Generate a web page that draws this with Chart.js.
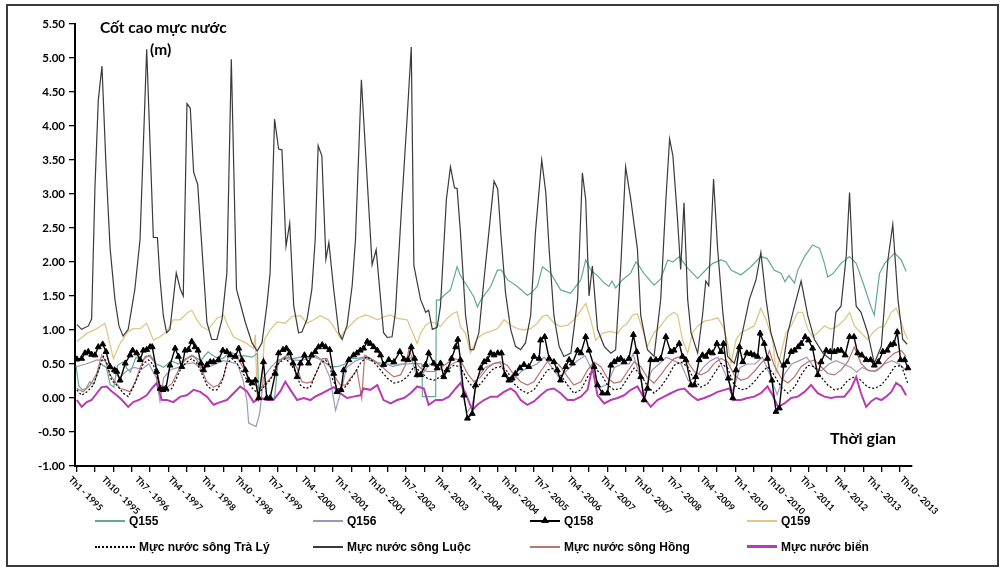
<!DOCTYPE html>
<html lang="vi">
<head>
<meta charset="utf-8">
<title>Cốt cao mực nước</title>
<script src="https://cdn.jsdelivr.net/npm/chart.js@4.4.1/dist/chart.umd.min.js"></script>
<style>
html,body{margin:0;padding:0;background:#fff;}
#khung{position:absolute;left:0;top:0;width:1003px;height:572px;overflow:hidden;}
#vien{position:absolute;left:6px;top:4px;width:993px;height:563px;border:2px solid #3a3a3a;box-sizing:border-box;}
#bieuDo{position:absolute;left:0;top:0;}
.chu{position:absolute;font-family:Lato,"Open Sans",sans-serif;font-weight:bold;color:#000;white-space:nowrap;}
.muc{position:absolute;font-family:"Liberation Sans",sans-serif;font-weight:bold;font-size:12px;color:#000;white-space:nowrap;line-height:14px;}
.net{display:inline-block;vertical-align:middle;position:relative;margin-right:4px;}
</style>
</head>
<body>
<div id="khung">
<div id="vien"></div>
<canvas id="bieuDo" width="1003" height="572"></canvas>
<div class="chu" style="left:100px;top:18px;font-size:15.5px;">Cốt cao mực nước</div>
<div class="chu" style="left:150px;top:40px;font-size:15.5px;">(m)</div>
<div class="chu" style="left:830px;top:428px;font-size:16px;">Thời gian</div>
<div id="chuGiai"></div>
</div>

<script>
// ==============================
// DU LIEU (thang tinh tu Th1-1995 = 0)
// ==============================

const nhanThang = ["Th1 - 1995","Th10 - 1995","Th7 - 1996","Th4 - 1997","Th1 - 1998","Th10 - 1998","Th7 - 1999","Th4 - 2000","Th1 - 2001","Th10 - 2001","Th7 - 2002","Th4 - 2003","Th1 - 2004","Th10 - 2004","Th7 - 2005","Th4 - 2006","Th1 - 2007","Th10 - 2007","Th7 - 2008","Th4 - 2009","Th1 - 2010","Th10 - 2010","Th7 - 2011","Th4 - 2012","Th1 - 2013","Th10 - 2013"];
const viTriNhan = [0,9,18,27,36,45,54,63,72,81,90,99,108,117,126,135,144,153,162,171,180,189,198,207,216,225];

const tenChuoi = ["Q155","Q156","Q158","Q159","Mực nước sông Trà Lý","Mực nước sông Luộc","Mực nước sông Hồng","Mực nước biển"];

const q155 = [[0.3,0.48],[1,0.18],[2,0.12],[3,0.14],[4,0.24],[5,0.2],[6,0.35],[7,0.5],[8.5,0.45],[9.5,0.2],[10.5,0.16],[11.5,0.48],[13,0.53],[14,0.44],[15,0.38],[16.5,0.6],[18,0.55],[20,0.62],[22,0.5],[24,0.45],[26,0.55],[28,0.5],[30,0.58],[32,0.62],[34,0.55],[36,0.68],[38,0.6],[40,0.58],[42,0.68],[44,0.62],[46,0.62],[48,0.6],[49.4,0.66],[49.7,0.0],[54,0.0],[55,0.55],[57,0.6],[59,0.58],[61,0.6],[63,0.6],[65,0.63],[67,0.55],[69,0.46],[71,0.46],[73,0.5],[74,0.59],[76,0.58],[78,0.6],[80,0.55],[82,0.52],[84,0.51],[86,0.46],[88,0.5],[90,0.5],[92,0.51],[93.9,0.5],[94.0,0.02],[97.6,0.02],[97.8,1.44],[98.5,1.44],[99.7,1.5],[101.6,1.59],[103.4,1.93],[104.3,1.8],[106.2,1.64],[107.9,1.49],[108.9,1.34],[109.8,1.44],[112.5,1.64],[114.3,1.88],[115.4,1.88],[117.0,1.74],[119.7,1.64],[122.4,1.51],[123.6,1.55],[125.1,1.64],[126.5,1.93],[128.7,1.84],[131.4,1.59],[134.1,1.54],[136.9,1.74],[138.2,2.03],[139.6,1.88],[141.4,1.8],[143.2,1.69],[144.5,1.64],[145.3,1.72],[146.3,1.62],[148.2,1.74],[150.4,1.84],[151.8,2.0],[152.2,1.98],[154.0,1.83],[156.7,1.66],[158.5,1.75],[160.4,2.03],[161.8,2.0],[163.5,2.08],[165.8,1.91],[168.5,1.76],[171.0,1.9],[172.6,1.98],[174.8,2.03],[176.2,2.0],[177.5,1.88],[180.2,1.81],[182.9,1.93],[185.6,2.08],[187.3,2.05],[189.2,1.88],[191.1,1.83],[192.1,1.71],[193.2,1.8],[194.7,1.69],[195.6,1.88],[197.4,2.08],[199.6,2.25],[201.5,2.2],[202.8,1.98],[203.7,1.78],[205.1,1.83],[207.3,1.98],[209.6,2.08],[211.4,1.98],[213.6,1.64],[215.4,1.34],[216.3,1.22],[217.7,1.83],[219.1,1.98],[220.9,2.08],[221.8,2.13],[223.6,2.03],[224.9,1.86]];

const q156 = [[0.3,0.46],[3,0.5],[6,0.56],[8,0.55],[10,0.4],[12,0.3],[14,0.4],[16,0.45],[18,0.42],[20,0.5],[22,0.3],[23,-0.05],[24,0.3],[26,0.42],[28,0.45],[30,0.5],[32,0.52],[34,0.45],[36,0.45],[38,0.5],[40,0.55],[42,0.53],[44,0.5],[45.5,0.26],[46.5,-0.03],[47,-0.37],[49,-0.42],[50,-0.22],[51,0.3],[53,0.45],[55,0.56],[57,0.58],[59,0.56],[61,0.55],[63,0.58],[65,0.6],[67,0.55],[69,0.3],[70.5,-0.18],[72,0.1],[73.5,0.45],[76,0.55],[79,0.6],[81,0.55],[83,0.45],[85,0.5],[87,0.48],[89,0.5],[91,0.6],[92.5,0.3],[94,0.35],[96,0.5],[98,0.45],[100,0.4],[102,0.5],[104,0.55],[105,0.05],[106,-0.22],[107.5,-0.1],[109,0.3],[111,0.45],[113,0.5],[115,0.52],[117,0.3],[119,0.3],[121,0.4],[123,0.45],[125,0.5],[127,0.6],[129,0.45],[131,0.3],[133,0.4],[136,0.55],[138,0.62],[140,0.4],[142,0.15],[144,0.2],[146,0.45],[148,0.5],[150,0.5],[151,0.65],[153,0.3],[154,0.05],[156,0.4],[158,0.5],[160,0.6],[162,0.55],[164,0.5],[166,0.25],[168,0.3],[170,0.45],[172,0.55],[174,0.6],[176,0.35],[178,0.1],[180,0.45],[182,0.5],[184,0.5],[186,0.6],[188,0.35],[190,0.05],[192,0.35],[194,0.5],[196,0.55],[198,0.6],[200,0.45],[202,0.4],[204,0.5],[206,0.55],[208,0.5],[210,0.45],[211.5,0.38],[213,0.45],[215,0.4],[217,0.4],[219,0.5],[221,0.55],[223,0.5],[225,0.4]];

const q158 = [[0.5,0.57],[1.8,0.58],[2.7,0.66],[3.6,0.68],[4.5,0.64],[5.4,0.63],[6.3,0.75],[7.5,0.79],[8.4,0.68],[9.5,0.46],[10.7,0.41],[11.3,0.39],[12.2,0.26],[13.6,0.51],[14.9,0.63],[15.6,0.7],[16.7,0.66],[17.6,0.56],[18.5,0.7],[19.4,0.71],[20.3,0.75],[20.9,0.75],[22.1,0.39],[23.0,0.14],[23.8,0.12],[24.6,0.14],[25.7,0.48],[27.1,0.73],[28.0,0.61],[28.9,0.46],[29.8,0.7],[30.7,0.71],[31.6,0.83],[32.5,0.75],[33.3,0.7],[34.1,0.51],[34.8,0.41],[35.7,0.49],[36.6,0.53],[37.5,0.53],[38.8,0.56],[40.0,0.7],[41.1,0.68],[42.0,0.63],[43.4,0.61],[44.3,0.73],[45.2,0.56],[46.1,0.41],[47.0,0.26],[47.9,0.22],[48.8,0.26],[49.7,0.0],[51.0,0.53],[51.9,0.0],[52.8,0.0],[54.2,0.36],[55.1,0.66],[56.3,0.71],[57.2,0.73],[58.1,0.66],[59.0,0.51],[60.1,0.31],[61.0,0.51],[62.1,0.63],[63.2,0.51],[64.0,0.63],[65.0,0.68],[65.9,0.75],[66.9,0.78],[67.8,0.75],[68.9,0.71],[70.0,0.36],[70.9,0.09],[72.0,0.12],[72.7,0.41],[74.1,0.56],[75.4,0.63],[76.3,0.66],[77.2,0.7],[78.1,0.73],[79.1,0.83],[79.9,0.8],[80.8,0.75],[81.8,0.7],[82.7,0.63],[83.5,0.49],[84.9,0.56],[86.3,0.53],[87.9,0.68],[89.0,0.57],[90.1,0.56],[91.0,0.75],[91.9,0.58],[92.6,0.34],[93.5,0.34],[94.9,0.49],[95.7,0.66],[97.1,0.51],[98.0,0.44],[98.9,0.51],[99.8,0.31],[100.7,0.41],[101.9,0.58],[103.0,0.75],[103.6,0.86],[104.3,0.56],[105.2,0.04],[106.2,-0.3],[107.5,-0.23],[108.4,0.19],[109.8,0.44],[110.7,0.53],[111.6,0.56],[112.5,0.66],[113.4,0.63],[114.4,0.66],[115.4,0.66],[116.3,0.34],[117.4,0.26],[118.3,0.29],[119.2,0.36],[120.4,0.44],[121.5,0.49],[122.8,0.46],[124.2,0.61],[125.6,0.58],[126.0,0.85],[127.1,0.9],[128.3,0.58],[129.6,0.53],[130.5,0.41],[131.4,0.26],[132.8,0.46],[133.7,0.56],[134.6,0.51],[136.0,0.7],[136.9,0.66],[138.2,0.9],[139.1,0.7],[140.5,0.46],[141.4,0.19],[142.7,0.07],[144.1,0.07],[145.0,0.48],[145.9,0.53],[146.8,0.56],[147.7,0.58],[148.6,0.53],[149.9,0.58],[151.1,0.93],[152.0,0.68],[153.1,0.31],[154.0,-0.03],[154.9,0.14],[155.8,0.56],[157.2,0.56],[158.5,0.58],[159.9,0.9],[161.2,0.68],[162.1,0.7],[163.5,0.8],[164.4,0.61],[165.3,0.56],[166.7,0.19],[167.6,0.19],[168.0,0.31],[168.9,0.56],[169.8,0.63],[170.7,0.61],[171.6,0.68],[172.5,0.66],[173.7,0.8],[174.8,0.68],[175.5,0.8],[176.8,0.29],[178.0,0.0],[178.9,0.41],[179.8,0.75],[180.7,0.53],[181.8,0.66],[182.9,0.65],[183.8,0.63],[184.7,0.61],[185.4,0.95],[186.5,0.8],[187.4,0.58],[188.6,0.26],[189.7,-0.2],[190.6,-0.15],[191.8,0.48],[192.7,0.53],[193.8,0.68],[194.7,0.7],[195.7,0.75],[196.5,0.8],[197.6,0.9],[198.5,0.85],[199.6,0.73],[201.0,0.34],[201.9,0.53],[203.3,0.7],[204.4,0.68],[205.5,0.68],[206.4,0.7],[207.3,0.7],[208.4,0.63],[209.6,0.9],[210.8,0.9],[211.8,0.66],[212.9,0.63],[214.1,0.56],[215.3,0.56],[216.3,0.48],[217.4,0.53],[218.6,0.68],[219.8,0.7],[220.7,0.78],[221.6,0.8],[222.5,0.97],[223.4,0.56],[224.5,0.56],[225.4,0.44]];

const q159 = [[0.5,0.83],[3.2,0.95],[5.9,1.02],[8.1,1.1],[9.0,0.9],[10.4,0.58],[12.2,0.8],[14.4,0.98],[15.8,1.02],[17.6,1.02],[19.4,1.1],[21.2,0.85],[23.0,0.9],[24.9,0.98],[26.6,1.15],[28.5,1.15],[30.3,1.25],[31.6,1.29],[33.0,1.15],[34.3,1.05],[36.0,1.0],[38.4,1.17],[40.2,1.22],[41.1,1.1],[42.9,0.9],[44.7,0.85],[46.5,0.8],[48.3,0.73],[48.8,0.93],[49.3,0.0],[50.4,0.0],[51.2,0.85],[52.8,1.0],[54.7,1.12],[56.9,1.1],[58.8,1.2],[61.0,1.21],[62.8,1.1],[64.6,1.15],[66.4,1.21],[68.6,1.15],[70.0,1.05],[71.8,0.88],[72.7,0.97],[74.5,1.07],[76.3,1.17],[78.6,1.22],[79.9,1.2],[81.8,1.15],[84.0,1.2],[85.4,1.22],[87.2,1.17],[89.9,1.15],[92.6,0.8],[93.5,0.95],[94.9,1.07],[96.2,1.12],[97.6,1.1],[98.9,1.05],[100.7,1.17],[102.1,1.24],[103.4,1.27],[104.3,1.05],[105.7,0.95],[107.0,0.66],[108.9,0.88],[110.7,0.95],[112.5,0.98],[114.3,1.02],[116.1,1.15],[117.9,1.07],[119.7,1.02],[121.5,1.0],[123.3,1.02],[125.1,1.1],[126.5,1.2],[127.8,1.22],[129.6,1.1],[131.4,1.05],[133.3,1.07],[135.0,1.15],[136.9,1.29],[138.2,1.39],[139.6,1.15],[140.9,0.85],[142.7,0.95],[145.0,0.98],[146.8,0.95],[148.2,1.05],[149.5,1.1],[150.9,1.22],[152.2,1.24],[153.6,1.0],[154.9,0.76],[156.7,0.96],[158.5,1.06],[160.4,1.2],[162.1,1.26],[163.1,1.22],[164.4,0.86],[165.8,0.66],[167.1,0.96],[168.5,1.06],[170.3,1.13],[172.1,1.15],[173.9,1.18],[175.3,1.06],[176.6,0.81],[177.5,0.51],[178.9,0.86],[180.2,0.96],[182.0,1.01],[183.8,1.06],[185.6,1.32],[187.0,1.15],[188.8,0.86],[189.7,0.37],[191.1,0.66],[192.4,0.96],[193.8,1.06],[195.6,1.26],[196.9,1.26],[198.3,1.01],[199.6,0.9],[201.0,0.96],[202.8,1.06],[204.6,1.01],[206.4,1.06],[208.2,1.15],[209.6,1.26],[210.9,1.06],[212.7,0.96],[214.5,0.86],[215.9,0.96],[217.3,1.03],[219.1,1.06],[220.9,1.26],[222.2,1.32],[223.1,1.2],[224.5,0.96],[225.4,0.86]];

const songTraLy = [[0.5,0.12],[1.8,0.04],[3.2,0.09],[5.0,0.19],[6.8,0.48],[7.7,0.61],[8.6,0.51],[9.9,0.26],[11.3,0.19],[13.1,0.07],[14.4,0.02],[15.8,0.16],[17.2,0.34],[18.5,0.51],[19.9,0.56],[21.2,0.49],[23.0,0.16],[24.9,0.09],[26.2,0.14],[27.6,0.31],[28.9,0.46],[30.3,0.53],[31.6,0.58],[33.0,0.51],[34.3,0.36],[35.7,0.19],[37.0,0.12],[38.4,0.12],[39.8,0.24],[41.1,0.51],[42.5,0.58],[43.8,0.51],[45.2,0.39],[47.0,0.22],[48.3,0.12],[49.7,0.07],[51.5,0.19],[52.8,0.26],[54.2,0.46],[55.6,0.53],[56.9,0.58],[58.3,0.51],[59.6,0.39],[61.0,0.19],[62.3,0.14],[63.7,0.16],[65.0,0.34],[66.4,0.51],[67.8,0.56],[69.1,0.46],[69.6,0.29],[70.9,0.14],[72.3,0.12],[73.6,0.19],[75.4,0.34],[77.2,0.51],[79.0,0.61],[80.8,0.53],[82.7,0.41],[84.5,0.29],[86.3,0.22],[88.1,0.24],[89.9,0.31],[91.7,0.46],[93.5,0.39],[95.3,0.29],[97.1,0.26],[98.9,0.31],[100.7,0.41],[102.5,0.48],[104.3,0.46],[106.2,0.26],[107.9,0.14],[109.8,0.21],[111.6,0.34],[113.4,0.44],[115.2,0.46],[117.0,0.39],[118.8,0.21],[120.6,0.12],[122.4,0.07],[124.2,0.12],[126.0,0.26],[127.8,0.41],[129.6,0.44],[131.4,0.34],[133.3,0.19],[135.0,0.07],[136.9,0.12],[138.7,0.31],[140.5,0.44],[142.3,0.36],[144.1,0.19],[145.9,0.12],[147.7,0.14],[149.5,0.29],[151.3,0.44],[153.1,0.34],[154.9,0.18],[156.7,0.07],[158.5,0.16],[160.4,0.31],[162.1,0.48],[163.9,0.53],[165.8,0.46],[167.6,0.26],[169.4,0.16],[171.2,0.21],[173.0,0.36],[174.8,0.51],[176.6,0.44],[178.4,0.19],[180.2,0.12],[182.0,0.14],[183.8,0.24],[185.6,0.36],[187.4,0.46],[189.2,0.34],[191.1,0.16],[192.9,0.07],[194.7,0.16],[196.5,0.34],[198.3,0.48],[200.1,0.46],[201.9,0.31],[203.7,0.19],[205.5,0.12],[207.3,0.14],[209.1,0.26],[210.9,0.31],[212.7,0.26],[214.5,0.16],[216.3,0.14],[218.2,0.19],[220.0,0.31],[221.8,0.46],[223.6,0.48],[225.4,0.21]];

const songLuoc = [[0.5,1.08],[1.8,1.01],[3.6,1.06],[4.5,1.16],[5.4,3.1],[6.3,4.38],[7.3,4.88],[8.4,3.4],[9.5,2.2],[10.8,1.45],[11.9,1.06],[13.0,0.91],[14.4,1.01],[16.2,1.6],[17.6,2.33],[19.4,5.13],[21.2,2.36],[22.3,2.36],[23.0,1.75],[23.9,1.21],[24.8,0.96],[25.7,1.01],[26.6,1.45],[27.4,1.84],[28.5,1.6],[29.3,1.5],[30.3,4.33],[31.2,4.26],[32.1,3.32],[33.2,3.14],[34.8,1.84],[35.7,1.11],[37.0,0.86],[38.4,0.86],[39.8,1.16],[41.1,1.84],[42.3,4.98],[43.7,1.6],[46.1,1.11],[47.9,0.81],[49.3,0.69],[50.6,0.81],[51.9,1.35],[52.8,1.84],[54.0,4.1],[55.1,3.66],[56.0,3.65],[57.1,2.23],[58.1,2.57],[59.2,1.35],[60.5,0.96],[61.4,0.97],[62.8,1.16],[64.1,1.6],[65.0,2.33],[65.8,3.71],[66.8,3.56],[67.9,2.04],[68.7,2.29],[70.0,1.6],[71.4,0.96],[72.3,0.86],[73.6,1.06],[75.0,1.65],[75.9,2.33],[77.5,4.68],[80.4,1.96],[81.5,2.18],[83.5,0.96],[84.5,0.89],[85.8,0.9],[86.7,1.26],[88.5,2.92],[89.9,4.14],[91.0,5.16],[91.7,1.95],[93.5,1.45],[94.9,1.26],[95.7,1.29],[96.7,1.01],[98.0,1.04],[98.9,1.35],[100.5,2.92],[101.6,3.4],[102.7,3.09],[103.4,3.08],[104.3,2.44],[105.7,1.21],[107.0,0.71],[107.9,0.71],[109.3,0.96],[110.6,1.7],[112.0,2.44],[113.4,3.19],[114.4,3.07],[115.2,2.44],[116.5,1.55],[117.9,1.01],[119.2,0.76],[120.6,0.71],[121.9,0.81],[123.3,1.21],[124.6,2.44],[126.3,3.5],[127.4,3.02],[128.3,2.19],[129.6,1.21],[131.0,0.76],[132.3,0.61],[134.2,0.66],[136.0,1.45],[137.3,3.31],[138.2,2.92],[139.1,1.5],[140.0,1.94],[141.4,1.01],[143.2,0.76],[145.0,0.66],[146.3,0.71],[147.7,1.94],[149.0,3.4],[150.4,2.92],[152.2,2.19],[153.1,1.21],[154.9,0.71],[156.7,0.61],[158.5,1.45],[159.9,2.92],[160.9,3.81],[161.8,3.56],[163.0,2.67],[163.9,1.89],[164.8,2.87],[165.8,1.45],[166.7,0.96],[168.5,0.66],[169.8,1.21],[170.7,1.72],[171.5,1.65],[172.8,3.22],[173.9,2.19],[175.3,1.26],[176.6,0.61],[178.4,0.51],[180.2,0.86],[182.5,1.45],[184.3,1.74],[185.6,2.14],[187.0,1.45],[188.3,0.96],[190.2,0.61],[191.5,0.46],[192.9,0.96],[194.7,1.35],[196.5,1.72],[198.3,1.21],[200.1,0.86],[202.4,0.66],[204.6,0.56],[205.9,1.26],[207.3,1.35],[208.7,2.09],[209.6,3.02],[210.5,1.94],[211.4,1.35],[212.7,1.26],[214.5,0.96],[216.3,0.51],[218.2,0.76],[220.0,2.04],[221.3,2.55],[222.7,1.45],[224.0,0.86],[225.2,0.79]];

const songHong = [[0.5,0.14],[2.2,0.09],[4.1,0.19],[5.9,0.36],[7.2,0.63],[8.1,0.56],[9.5,0.34],[10.8,0.24],[12.2,0.14],[13.6,0.12],[14.9,0.09],[16.3,0.24],[17.6,0.44],[19.0,0.61],[20.3,0.63],[21.7,0.53],[23.0,0.19],[24.9,0.16],[26.2,0.21],[27.6,0.36],[28.9,0.51],[30.3,0.58],[31.6,0.63],[33.0,0.56],[34.3,0.41],[35.7,0.24],[37.5,0.16],[38.8,0.19],[40.2,0.31],[41.5,0.61],[42.9,0.63],[44.3,0.56],[45.6,0.44],[47.4,0.26],[48.8,0.19],[50.1,0.14],[52.0,0.24],[53.3,0.31],[54.7,0.48],[56.0,0.58],[57.4,0.63],[58.7,0.56],[60.1,0.44],[61.4,0.24],[62.8,0.22],[64.1,0.24],[65.5,0.39],[66.9,0.58],[68.2,0.58],[70.0,0.34],[71.8,0.19],[73.2,0.19],[74.5,0.29],[76.3,0.41],[77.6,0.0],[78.4,0.63],[79.0,0.61],[80.8,0.56],[82.7,0.48],[84.5,0.39],[86.3,0.31],[88.1,0.34],[89.4,0.48],[90.3,0.7],[91.7,0.56],[93.5,0.44],[95.3,0.39],[97.1,0.39],[98.9,0.44],[100.7,0.51],[102.5,0.58],[104.3,0.56],[106.2,0.36],[107.9,0.24],[109.8,0.31],[111.6,0.44],[113.4,0.51],[115.2,0.53],[117.0,0.48],[118.8,0.34],[120.6,0.24],[122.4,0.19],[124.2,0.24],[126.0,0.39],[127.8,0.53],[129.6,0.56],[131.4,0.46],[133.3,0.31],[135.0,0.19],[136.9,0.24],[138.7,0.41],[140.5,0.53],[142.3,0.46],[144.1,0.29],[145.9,0.22],[147.7,0.24],[149.5,0.39],[151.3,0.53],[153.1,0.46],[154.9,0.3],[156.7,0.22],[158.5,0.34],[160.4,0.48],[162.1,0.58],[163.9,0.61],[165.8,0.53],[167.6,0.39],[169.4,0.34],[171.2,0.39],[173.0,0.51],[174.8,0.58],[176.6,0.53],[178.4,0.34],[180.2,0.26],[182.0,0.29],[183.8,0.39],[185.6,0.51],[187.4,0.61],[187.9,0.7],[189.2,0.48],[191.1,0.29],[192.9,0.22],[194.7,0.31],[196.5,0.46],[198.3,0.53],[200.1,0.56],[201.9,0.46],[203.7,0.36],[205.5,0.34],[207.3,0.41],[209.1,0.53],[210.9,0.75],[212.7,0.51],[214.5,0.41],[216.3,0.39],[218.2,0.46],[220.0,0.58],[221.8,0.66],[223.6,0.7],[224.9,0.61]];

const mucNuocBien = [[0.5,-0.03],[1.8,-0.13],[3.2,-0.06],[4.5,-0.03],[5.9,0.07],[7.2,0.16],[8.6,0.17],[9.9,0.1],[11.3,0.04],[12.7,-0.03],[14.4,-0.13],[15.8,-0.06],[17.6,-0.02],[19.4,0.04],[20.8,0.14],[22.1,0.22],[23.5,-0.03],[24.9,-0.03],[26.6,-0.06],[28.5,0.02],[30.3,0.04],[32.1,0.12],[33.9,0.09],[35.7,0.02],[37.5,-0.1],[39.3,-0.06],[41.1,-0.03],[42.9,0.07],[44.7,0.17],[46.5,0.1],[48.3,-0.06],[50.1,0.0],[52.0,-0.03],[53.7,-0.03],[55.6,0.1],[56.9,0.24],[58.3,0.12],[60.1,-0.03],[61.9,0.0],[63.7,-0.03],[65.0,0.02],[66.9,0.07],[68.6,0.12],[70.0,0.16],[71.8,0.07],[73.6,0.0],[75.4,0.02],[77.2,0.04],[78.1,0.14],[79.9,0.12],[81.8,0.19],[83.5,-0.03],[85.4,-0.08],[87.2,-0.03],[89.0,0.0],[90.8,0.07],[92.6,0.17],[94.4,0.14],[95.7,-0.1],[97.6,-0.03],[99.4,-0.03],[101.2,0.02],[103.0,0.14],[104.3,0.22],[105.7,0.07],[107.5,-0.18],[108.9,-0.1],[110.7,-0.03],[112.5,0.02],[114.3,0.02],[116.1,0.09],[117.9,0.14],[119.2,0.09],[120.6,-0.03],[122.4,-0.1],[124.2,-0.05],[126.0,0.04],[127.8,0.12],[129.6,0.14],[131.4,0.07],[133.3,-0.03],[135.0,-0.03],[136.9,0.02],[138.7,0.12],[140.0,0.45],[141.4,0.04],[143.2,-0.08],[145.0,-0.03],[146.8,0.0],[148.6,0.04],[150.4,0.12],[152.2,0.17],[154.0,0.0],[155.8,-0.13],[157.6,-0.03],[159.4,0.02],[161.2,0.07],[163.1,0.12],[164.9,0.14],[166.7,0.04],[168.5,-0.03],[170.3,0.0],[172.1,0.04],[173.9,0.09],[175.7,0.12],[177.1,0.14],[178.4,-0.03],[180.2,-0.03],[182.0,0.0],[183.8,0.02],[185.6,0.07],[187.4,0.17],[188.8,0.04],[190.2,-0.13],[192.0,-0.08],[193.8,0.0],[195.6,0.02],[197.4,0.09],[199.2,0.19],[201.0,0.07],[202.8,0.02],[204.6,0.0],[206.4,0.02],[208.2,0.02],[210.0,0.14],[211.4,0.31],[212.7,0.07],[214.1,-0.13],[215.4,-0.05],[216.8,0.0],[218.2,-0.03],[219.5,0.02],[220.9,0.09],[222.2,0.22],[223.6,0.17],[224.9,0.04]];

// ==============================
// KIEU DUONG
// ==============================

const mau = ["#63a999","#a195bd","#000000","#e3c585","#000000","#3a3a3a","#b8746f","#b93bb3"];
const doDay = [1.2,1.2,1.4,1.3,1.2,1.2,1.2,2];
const thuTuVe = [7,6,1,8,4,2,5,3];
const cacChuoi = [q155,q156,q158,q159,songTraLy,songLuoc,songHong,mucNuocBien];

const datasets = cacChuoi.map((s,i)=>({
  label: tenChuoi[i],
  data: s.map(p=>({x:p[0],y:p[1]})),
  borderColor: mau[i],
  backgroundColor: mau[i],
  borderWidth: doDay[i],
  borderDash: i===4 ? [2,2] : [],
  pointRadius: i===2 ? 3.4 : 0,
  pointStyle: "triangle",
  pointBackgroundColor: "#000",
  pointBorderColor: "#000",
  pointBorderWidth: 1,
  tension: 0,
  order: thuTuVe[i]
}));

// ==============================
// NHAN TRUC X (xoay 45 do)
// ==============================

const nhanTrucX = {
  id: "nhanTrucX",
  afterDraw(chart){
    const ctx = chart.ctx;
    const x = chart.scales.x;
    ctx.save();
    ctx.font = "bold 9px Lato, 'Open Sans', sans-serif";
    ctx.fillStyle = "#000";
    ctx.textAlign = "left";
    ctx.textBaseline = "middle";
    nhanThang.forEach((t,i)=>{
      const px = x.getPixelForValue(viTriNhan[i]);
      ctx.save();
      ctx.translate(px - 5, x.top + 12);
      ctx.rotate(Math.PI/4);
      ctx.fillText(t, 0, 0);
      ctx.restore();
    });
    ctx.restore();
  }
};

// ==============================
// BIEU DO
// ==============================

const bieuDo = new Chart(document.getElementById("bieuDo"), {
  type: "line",
  data: { datasets: datasets },
  plugins: [nhanTrucX],
  options: {
    responsive: false,
    animation: false,
    devicePixelRatio: 1,
    layout: { padding: { left: 0, top: 24, right: 91, bottom: 0 } },
    plugins: {
      legend: { display: false },
      tooltip: { enabled: false }
    },
    scales: {
      x: {
        type: "linear",
        min: 0,
        max: 226.5,
        afterBuildTicks(s){
          const t = [];
          for(let v = 0.5; v <= 225; v += 4.95) t.push({value: v});
          s.ticks = t;
        },
        ticks: { display: false },
        grid: { drawOnChartArea: false, drawTicks: true, tickLength: 6, color: "#000", lineWidth: 1.3 },
        border: { display: true, color: "#000", width: 2 },
        afterFit(s){ s.height = 106; }
      },
      y: {
        min: -1,
        max: 5.5,
        ticks: {
          stepSize: 0.5,
          callback: v => v.toFixed(2),
          color: "#000",
          padding: 4,
          font: { family: "Lato, 'Open Sans', sans-serif", weight: "bold", size: 11.5 }
        },
        grid: { drawOnChartArea: false, drawTicks: true, tickLength: 6, color: "#000", lineWidth: 1.3 },
        border: { display: true, color: "#000", width: 2 },
        afterFit(s){ s.width = 75; }
      }
    }
  }
});

// ==============================
// CHU GIAI (4 cot x 2 hang)
// ==============================

const cotChuGiai = [95, 313, 530, 747];
const hangChuGiai = [514, 540];
const hop = document.getElementById("chuGiai");

tenChuoi.forEach((ten,i)=>{
  const d = document.createElement("div");
  d.className = "muc";
  d.style.left = cotChuGiai[i % 4] + "px";
  d.style.top = hangChuGiai[Math.floor(i / 4)] + "px";
  const dai = i === 4 ? 40 : 30;
  const net = document.createElement("span");
  net.className = "net";
  net.style.width = dai + "px";
  net.style.height = "0px";
  net.style.top = "-1px";
  const day = i === 7 ? 3 : 2;
  net.style.borderTop = day + "px " + (i === 4 ? "dotted " : "solid ") + mau[i];
  if(i === 2){
    const tg = document.createElement("span");
    tg.style.cssText = "position:absolute;left:11px;top:-6px;width:0;height:0;border-left:4px solid transparent;border-right:4px solid transparent;border-bottom:7px solid #000;";
    net.appendChild(tg);
  }
  d.appendChild(net);
  d.appendChild(document.createTextNode(ten));
  hop.appendChild(d);
});
</script>
</body>
</html>
